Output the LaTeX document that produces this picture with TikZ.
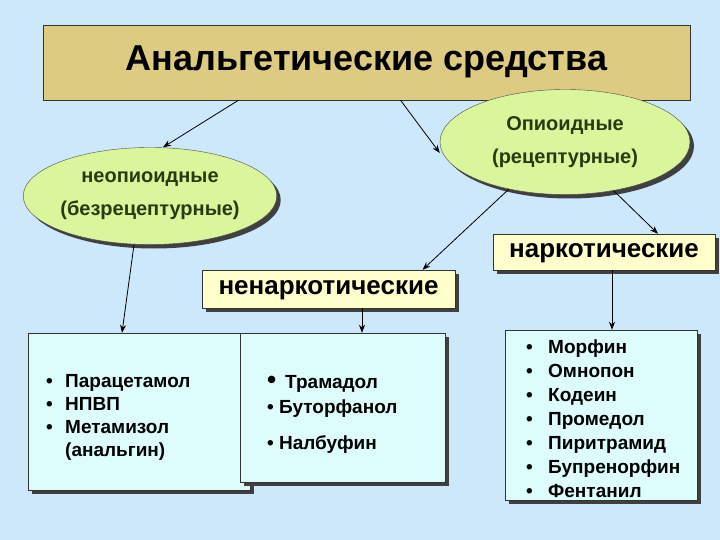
\documentclass[tikz,border=0pt]{standalone}
\usepackage{fontspec}
\setmainfont{Liberation Sans}
\usetikzlibrary{shadows,arrows.meta,shapes.geometric}
\definecolor{bg}{HTML}{CCE8FA}
\definecolor{tan}{HTML}{DCCB80}
\definecolor{lgreen}{HTML}{DAF59C}
\definecolor{lyel}{HTML}{FFFFCC}
\definecolor{lcyan}{HTML}{DDFDFD}
\definecolor{olive}{HTML}{2A3A10}
\tikzset{
  shad/.style={drop shadow={shadow xshift=4pt,shadow yshift=-4pt,fill=black!75,opacity=1}},
  ell/.style={ellipse, draw=black!70, fill=lgreen, shad, align=center, text=olive, font=\fontsize{20}{33}\selectfont\bfseries},
  hbox/.style={draw=black!80, fill=lyel, shad, font=\fontsize{26}{28}\selectfont\bfseries, inner sep=0pt, text height=14pt, text depth=3pt},
  lbox/.style={draw=black!80, fill=lcyan, shad, inner sep=0pt},
  conn/.style={-{Stealth[length=8pt,width=6pt]}, line width=0.8pt}
}
\begin{document}
\begin{tikzpicture}[x=1pt,y=-1pt]
\fill[bg] (0,0) rectangle (720,540);
\useasboundingbox (0,0) rectangle (720,540);
\node[draw=black!80, fill=tan, minimum width=647pt, minimum height=75pt, inner sep=0pt, text height=20pt, text depth=4pt, font=\fontsize{36}{40}\selectfont\bfseries] (title) at (366.5,62.5) {Анальгетические средства};
\node[ell, minimum width=244pt, minimum height=97pt, inner sep=0pt] (left) at (150,196) {неопиоидные\\(безрецептурные)};
\node[ell, minimum width=250pt, minimum height=105pt, inner sep=0pt] (right) at (565,142) {Опиоидные\\(рецептурные)};
\node[hbox, minimum width=222pt, minimum height=36pt] (nark) at (604,252) {наркотические};
\node[hbox, minimum width=253pt, minimum height=38pt] (nenark) at (328.5,289) {ненаркотические};
\node[lbox, minimum width=222pt, minimum height=157pt] (lb) at (139,411.5) {};
\node[lbox, minimum width=205pt, minimum height=149pt] (mb) at (342.5,407.5) {};
\node[lbox, minimum width=192pt, minimum height=170pt] (rb) at (601,415) {};
\begin{scope}[every node/.style={anchor=base west, font=\fontsize{19}{20}\selectfont\bfseries, inner sep=0pt}]
\foreach \t [count=\i] in {Парацетамол,НПВП,Метамизол} {
  \node (l\i) at (65,{364+23*\i}) {\t};
  \node (lb\i) at (46,{364+23*\i}) {•};
}
\node (l4) at (65,456) {(анальгин)};
\node (m1b) at (267,388) {\fontsize{26}{26}\selectfont •};
\node (m1) at (285,388) {Трамадол};
\node (m2) at (267,413) {• Буторфанол};
\node (m3) at (267,449) {• Налбуфин};
\foreach \t [count=\i] in {Морфин,Омнопон,Кодеин,Промедол,Пиритрамид,Бупренорфин,Фентанил} {
  \node (r\i) at (548,{329+24*\i}) {\t};
  \node (rb\i) at (526,{329+24*\i}) {•};
}
\end{scope}
\draw[conn] ([xshift=-128pt]title.south) -- ([xshift=13pt]left.north);
\draw[conn] ([xshift=34pt]title.south) -- (right.west |- 0,153) coordinate (c1);
\draw[conn] (right.-140) -- ([xshift=94pt]nenark.north);
\draw[conn] (right.-45) -- ([xshift=54pt]nark.north);
\draw[conn] ([xshift=8pt]nark.south) -- ([xshift=11pt]rb.north);
\draw[conn] ([xshift=33.5pt]nenark.south) -- ([xshift=19.5pt]mb.north);
\draw[conn] ([xshift=-16pt]left.south) -- ([xshift=-17pt]lb.north);
\end{tikzpicture}
\end{document}
